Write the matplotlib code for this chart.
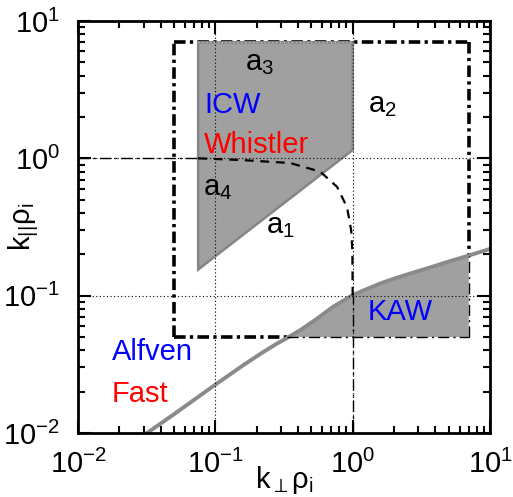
import matplotlib
matplotlib.use('Agg')
import matplotlib.pyplot as plt

plt.rcParams['font.family'] = ['Liberation Sans', 'DejaVu Sans']
plt.rcParams['mathtext.fontset'] = 'custom'
plt.rcParams['mathtext.rm'] = 'Liberation Sans'
plt.rcParams['mathtext.it'] = 'Liberation Sans'
plt.rcParams['mathtext.sf'] = 'Liberation Sans'
plt.rcParams['mathtext.default'] = 'regular'

# ---------------- data ----------------
box_lo = 0.05
box_hi = 7.0

icw_x = [0.075, 1.0, 1.0, 0.075]
icw_y = [7.0, 7.0, 1.15, 0.155]

kaw_x = [0.03, 0.05, 0.1, 0.16, 0.22, 0.27, 0.33, 0.42, 0.55, 0.72, 1.0, 1.3, 1.6, 2.0, 2.8, 3.7, 4.9, 7.0, 10.0]
kaw_y = [0.0096, 0.0137, 0.0225, 0.0312, 0.0385, 0.0437, 0.049, 0.0565, 0.068, 0.083, 0.101, 0.113, 0.123, 0.133, 0.148, 0.161, 0.176, 0.196, 0.219]
KAW_START = 6   # index where the KAW region begins (x = 0.33)
KAW_END = 17    # index of x = 7

arc_x = [0.075, 0.151, 0.35, 0.58, 0.77, 0.91, 0.975, 0.995, 1.0]
arc_y = [1.0, 0.973, 0.925, 0.80, 0.62, 0.44, 0.30, 0.215, 0.1]

label_text = ['a$_3$', 'ICW', 'a$_2$', 'Whistler', 'a$_4$', 'a$_1$', 'KAW', 'Alfven', 'Fast']
label_x = [0.164, 0.0828, 1.29, 0.0828, 0.0813, 0.234, 1.29, 0.0177, 0.0177]
label_y = [4.4, 2.14, 2.18, 1.094, 0.541, 0.286, 0.0665, 0.034, 0.0168]
label_col = ['black', 'blue', 'black', 'red', 'black', 'black', 'blue', 'blue', 'red']

grid_x = [0.1, 1.0]
grid_y = [0.1, 1.0]

# ---------------- figure ----------------
fig = plt.figure(figsize=(5.13, 4.97), dpi=100)
ax = fig.add_axes([78/513, 1-433/497, 412/513, 412/497])
ax.set_xscale('log')
ax.set_yscale('log')
ax.set_xlim(1e-2, 1e1)
ax.set_ylim(1e-2, 1e1)

fill_c = '#a0a0a0'
edge_c = '#858585'

# thick dash-dot box (outside KAW part)
thick = dict(color='black', lw=2.6, linestyle=(0, (3.2, 1.2, 0.9, 1.2)), zorder=2,
             solid_capstyle='butt', dash_capstyle='butt')
ax.plot([box_lo, box_lo], [box_lo, box_hi], **thick)
ax.plot([box_lo, box_hi], [box_hi, box_hi], **thick)
ax.plot([box_hi, box_hi], [box_hi, kaw_y[KAW_END]], **thick)
ax.plot([box_lo, kaw_x[KAW_START]], [box_lo, box_lo], **thick)

# ICW / whistler polygon
ax.fill(icw_x, icw_y, facecolor=fill_c, edgecolor=edge_c, lw=1.8, zorder=3)

# KAW region
ax.fill_between(kaw_x[KAW_START:KAW_END + 1], box_lo, kaw_y[KAW_START:KAW_END + 1],
                facecolor=fill_c, edgecolor='none', zorder=3)
ax.plot(kaw_x, kaw_y, color='#8a8a8a', lw=2.8, zorder=4, solid_capstyle='butt',
        solid_joinstyle='round')

# grid (dotted) on top of fills
for gx in grid_x:
    ax.plot([gx, gx], [1e-2, 1e1], color='black', lw=0.8, linestyle=(0, (1, 2.2)), zorder=5)
for gy in grid_y:
    ax.plot([1e-2, 1e1], [gy, gy], color='black', lw=0.8, linestyle=(0, (1, 2.2)), zorder=5)

thin = dict(color='black', lw=1.0, linestyle=(0, (8, 3, 1.5, 3)), zorder=6)
ax.plot([1e-2, icw_x[0]], [1.0, 1.0], **thin)
ax.plot([1.0, 1.0], [1e-2, 0.1], **thin)
ax.plot([kaw_x[KAW_START], box_hi], [box_lo, box_lo], **thin)
ax.plot([box_hi, box_hi], [box_lo, kaw_y[KAW_END]], **thin)
ax.plot([icw_x[0], icw_x[1]], [box_hi, box_hi], color='white', lw=0.8,
        linestyle=(0, (1, 2.5)), zorder=6, alpha=0.6)

# dashed arc
ax.plot(arc_x, arc_y, color='black', lw=1.6, linestyle=(0, (4, 3)), zorder=6)

for t, x, y, c in zip(label_text, label_x, label_y, label_col):
    ax.text(x, y, t, color=c, fontsize=21, ha='left', va='baseline', zorder=7)

# axes styling
for s in ax.spines.values():
    s.set_linewidth(2.0)
    s.set_zorder(8)
ax.tick_params(which='both', direction='in', top=True, right=True, width=1.5,
               labelsize=21)
ax.tick_params(axis='x', pad=12)
ax.tick_params(axis='y', pad=13)
ax.tick_params(which='major', length=9.5)
ax.tick_params(which='minor', length=5)

ax.set_xlabel(r'k$_{\perp}\rho_i$', fontsize=21)
ax.set_ylabel(r'k$_{||}\rho_i$', fontsize=21)
ax.xaxis.set_label_coords(0.5, -0.075)
ax.yaxis.set_label_coords(-0.09, 0.5)

fig.savefig('out.png', dpi=100)
